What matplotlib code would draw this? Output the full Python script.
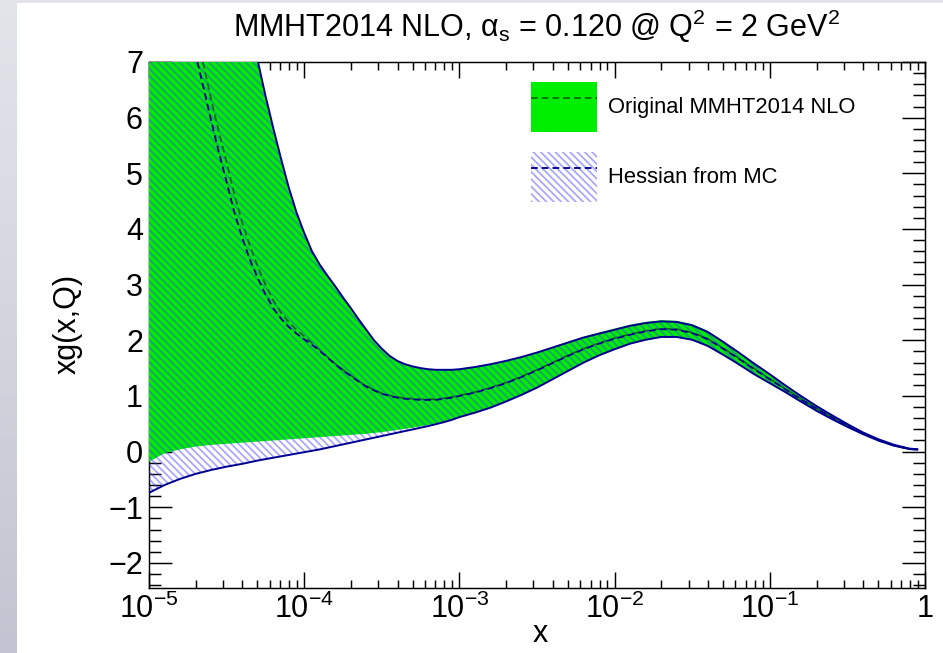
import numpy as np
import matplotlib.pyplot as plt
from matplotlib.patches import Patch, Rectangle
from matplotlib.lines import Line2D
from matplotlib.colors import LinearSegmentedColormap
from matplotlib.ticker import LogLocator, MultipleLocator, NullFormatter

plt.rcParams["font.family"] = ["Liberation Sans", "DejaVu Sans"]
plt.rcParams["mathtext.default"] = "regular"
plt.rcParams["hatch.linewidth"] = 1.5
plt.rcParams["lines.scale_dashes"] = False

DPI = 88

# log10(x) grid of the gluon curves (finer where the small-x band bends)
log_x = [-5.0, -4.9, -4.8, -4.7,
         -4.6, -4.55, -4.5, -4.45, -4.4, -4.35, -4.3, -4.25, -4.2, -4.15,
         -4.1, -4.05, -4.0, -3.95, -3.9, -3.85, -3.8, -3.75, -3.7, -3.65,
         -3.6, -3.55, -3.5, -3.45, -3.4, -3.35, -3.3, -3.25, -3.2, -3.15,
         -3.1, -3.05, -3.0,
         -2.9, -2.8, -2.7, -2.6, -2.5, -2.4, -2.3, -2.2, -2.1,
         -2.0, -1.9, -1.8, -1.7, -1.6, -1.5, -1.4, -1.3, -1.2, -1.1,
         -1.0, -0.9, -0.8, -0.7, -0.6, -0.5, -0.4, -0.3, -0.2, -0.1,
         -0.05]

# original MMHT2014 NLO: central value and error band
orig_central = [11.5, 10.2, 8.9, 7.6,
                6.33, 5.75, 5.2, 4.62, 4.12, 3.70, 3.33, 3.0, 2.72, 2.50,
                2.33, 2.19, 2.07, 1.95, 1.83, 1.70, 1.58, 1.47, 1.37, 1.27,
                1.18, 1.11, 1.05, 1.01, 0.98, 0.96, 0.95, 0.94, 0.94, 0.94,
                0.96, 0.98, 1.01,
                1.07, 1.15, 1.24, 1.35, 1.47, 1.60, 1.73, 1.85, 1.95,
                2.04, 2.11, 2.17, 2.21, 2.20, 2.14, 2.03, 1.86, 1.68, 1.49,
                1.31, 1.13, 0.95, 0.78, 0.62, 0.47, 0.33, 0.21, 0.115, 0.05,
                0.04]
orig_upper = [17.0, 15.5, 14.0, 12.5,
              11.0, 10.3, 9.6, 8.95, 8.3, 7.65, 7.03, 6.40, 5.82, 5.27,
              4.75, 4.30, 3.93, 3.60, 3.36, 3.16, 2.97, 2.77, 2.58, 2.38,
              2.19, 2.00, 1.84, 1.71, 1.62, 1.56, 1.52, 1.49, 1.47, 1.46,
              1.46, 1.47, 1.48,
              1.52, 1.57, 1.63, 1.70, 1.78, 1.88, 1.97, 2.06, 2.14,
              2.21, 2.28, 2.33, 2.36, 2.35, 2.29, 2.17, 1.99, 1.79, 1.59,
              1.40, 1.20, 1.01, 0.83, 0.66, 0.50, 0.35, 0.225, 0.125, 0.055,
              0.045]
orig_lower = [-0.18, -0.03, 0.04, 0.09,
              0.12, 0.13, 0.14, 0.15, 0.16, 0.17, 0.18, 0.19, 0.20, 0.21,
              0.22, 0.23, 0.24, 0.25, 0.26, 0.27, 0.28, 0.29, 0.30, 0.31,
              0.32, 0.335, 0.35, 0.37, 0.39, 0.41, 0.43, 0.455, 0.48, 0.51,
              0.54, 0.575, 0.61,
              0.69, 0.78, 0.89, 1.01, 1.14, 1.29, 1.44, 1.59, 1.72,
              1.83, 1.93, 2.00, 2.05, 2.05, 2.00, 1.89, 1.73, 1.56, 1.38,
              1.22, 1.06, 0.89, 0.73, 0.58, 0.44, 0.31, 0.195, 0.105, 0.045,
              0.035]

# Hessian set rebuilt from the MC replicas
hess_central = [11.0, 9.7, 8.4, 7.15,
                5.95, 5.38, 4.85, 4.3, 3.85, 3.45, 3.12, 2.83, 2.58, 2.39,
                2.24, 2.12, 2.02, 1.92, 1.81, 1.69, 1.57, 1.46, 1.36, 1.26,
                1.17, 1.10, 1.04, 1.00, 0.97, 0.95, 0.94, 0.93, 0.93, 0.93,
                0.95, 0.97, 1.00,
                1.06, 1.14, 1.23, 1.34, 1.46, 1.59, 1.72, 1.84, 1.94,
                2.03, 2.10, 2.16, 2.20, 2.19, 2.13, 2.02, 1.85, 1.67, 1.48,
                1.30, 1.12, 0.94, 0.775, 0.615, 0.465, 0.325, 0.205, 0.11, 0.048,
                0.038]
hess_upper = [17.0, 15.5, 14.0, 12.5,
              11.0, 10.3, 9.6, 8.95, 8.3, 7.65, 7.03, 6.40, 5.82, 5.27,
              4.75, 4.30, 3.93, 3.60, 3.36, 3.16, 2.97, 2.77, 2.58, 2.38,
              2.19, 2.00, 1.85, 1.72, 1.63, 1.57, 1.53, 1.50, 1.48, 1.47,
              1.47, 1.47, 1.48,
              1.52, 1.57, 1.63, 1.70, 1.78, 1.87, 1.96, 2.05, 2.12,
              2.19, 2.26, 2.31, 2.34, 2.33, 2.27, 2.15, 1.97, 1.78, 1.58,
              1.39, 1.19, 1.00, 0.82, 0.655, 0.495, 0.345, 0.222, 0.123, 0.054,
              0.044]
hess_lower = [-0.74, -0.60, -0.49, -0.40,
              -0.33, -0.30, -0.27, -0.245, -0.22, -0.19, -0.16, -0.135, -0.11, -0.085,
              -0.06, -0.035, -0.01, 0.015, 0.04, 0.07, 0.10, 0.13, 0.16, 0.19,
              0.22, 0.25, 0.28, 0.31, 0.34, 0.37, 0.40, 0.43, 0.46, 0.495,
              0.53, 0.57, 0.62,
              0.70, 0.79, 0.90, 1.02, 1.15, 1.30, 1.45, 1.60, 1.73,
              1.84, 1.94, 2.01, 2.06, 2.06, 2.01, 1.90, 1.74, 1.57, 1.39,
              1.23, 1.07, 0.90, 0.735, 0.585, 0.445, 0.315, 0.198, 0.107, 0.046,
              0.036]

x_major = [1e-5, 1e-4, 1e-3, 1e-2, 1e-1, 1.0]
x_major_labels = ["$10^{-5}$", "$10^{-4}$", "$10^{-3}$", "$10^{-2}$", "$10^{-1}$", "1"]

green = "#00ee00"
dark_green = "#006a00"
navy = "#000090"
hatch_blue = (0.25, 0.25, 1.0, 0.45)
dash = (0, (5.5, 3.3))

x = 10.0 ** np.array(log_x)

W, H = 943, 653
fig = plt.figure(figsize=(W / DPI, H / DPI), dpi=DPI, facecolor="white")

# grey frame strips on the page
bg = fig.add_axes([0, 0, 16 / W, 1], zorder=-10)
grad = np.linspace(0, 1, 256).reshape(-1, 1)
bg.imshow(grad, aspect="auto", origin="lower",
          cmap=LinearSegmentedColormap.from_list("strip", ["#c3c4d1", "#e4e5eb"]))
bg.axis("off")
fig.add_artist(Rectangle((0, 1 - 3 / H), 1, 3 / H, transform=fig.transFigure,
                         facecolor="#e3e4ea", edgecolor="none", zorder=-10))

ax = fig.add_axes([149 / W, 1 - 588 / H, 776 / W, 526 / H])
ax.set_axisbelow(True)
for sp in ax.spines.values():
    sp.set_linewidth(1.2)
    sp.set_zorder(0.5)

# original band
ax.fill_between(x, orig_lower, orig_upper, facecolor=green, edgecolor="none", lw=0, zorder=1)
ax.plot(x, orig_central, color=dark_green, lw=1.4, ls=dash, zorder=2)

# Hessian band, hatched on top
ax.fill_between(x, hess_lower, hess_upper, facecolor="none", edgecolor=hatch_blue,
                hatch="\\\\\\\\", lw=0, zorder=3)
ax.plot(x, hess_upper, color=navy, lw=1.6, zorder=4)
ax.plot(x, hess_lower, color=navy, lw=1.6, zorder=4)
ax.plot(x, hess_central, color=navy, lw=1.5, ls=dash, zorder=4)

ax.set_xscale("log")
ax.set_xlim(1e-5, 1.0)
ax.set_ylim(-2.45, 7.0)

ax.set_xticks(x_major, x_major_labels)
ax.xaxis.set_minor_locator(LogLocator(base=10, subs=np.arange(2, 10), numticks=20))
ax.xaxis.set_minor_formatter(NullFormatter())
ax.yaxis.set_major_locator(MultipleLocator(1))
ax.yaxis.set_minor_locator(MultipleLocator(0.2))

ax.tick_params(which="both", direction="in", top=True, right=True, width=1.2,
               labelsize=25)
ax.tick_params(axis="x", which="major", length=13, pad=5)
ax.tick_params(axis="x", which="minor", length=6.5)
ax.tick_params(axis="y", which="major", length=18.8, pad=5)
ax.tick_params(axis="y", which="minor", length=9.8)

fig.text(537 / W, 1 - 26 / H,
         r"MMHT2014 NLO, $\alpha_s$ = 0.120 @ Q$^2$ = 2 GeV$^2$",
         ha="center", va="center", fontsize=25)
fig.text(540 / W, 1 - 634 / H, "x", ha="center", va="center", fontsize=25)
fig.text(68 / W, 1 - 324 / H, "xg(x,Q)", rotation=90, ha="center", va="center",
         fontsize=25)

# legend
h_orig = (Patch(facecolor=green, edgecolor="none", lw=0),
          Line2D([], [], color=dark_green, lw=1.4, ls=dash))
h_hess = (Patch(facecolor="none", edgecolor=hatch_blue, hatch="\\\\\\\\", lw=0),
          Line2D([], [], color=navy, lw=1.5, ls=dash))
ax.legend([h_orig, h_hess], ["Original MMHT2014 NLO", "Hessian from MC"],
          loc="upper left", bbox_to_anchor=(0.492, 0.962), frameon=False,
          fontsize=18, borderpad=0, borderaxespad=0,
          handlelength=3.0, handleheight=3.12,
          handletextpad=0.5, labelspacing=0.91)

fig.savefig("out.png", dpi=DPI)
